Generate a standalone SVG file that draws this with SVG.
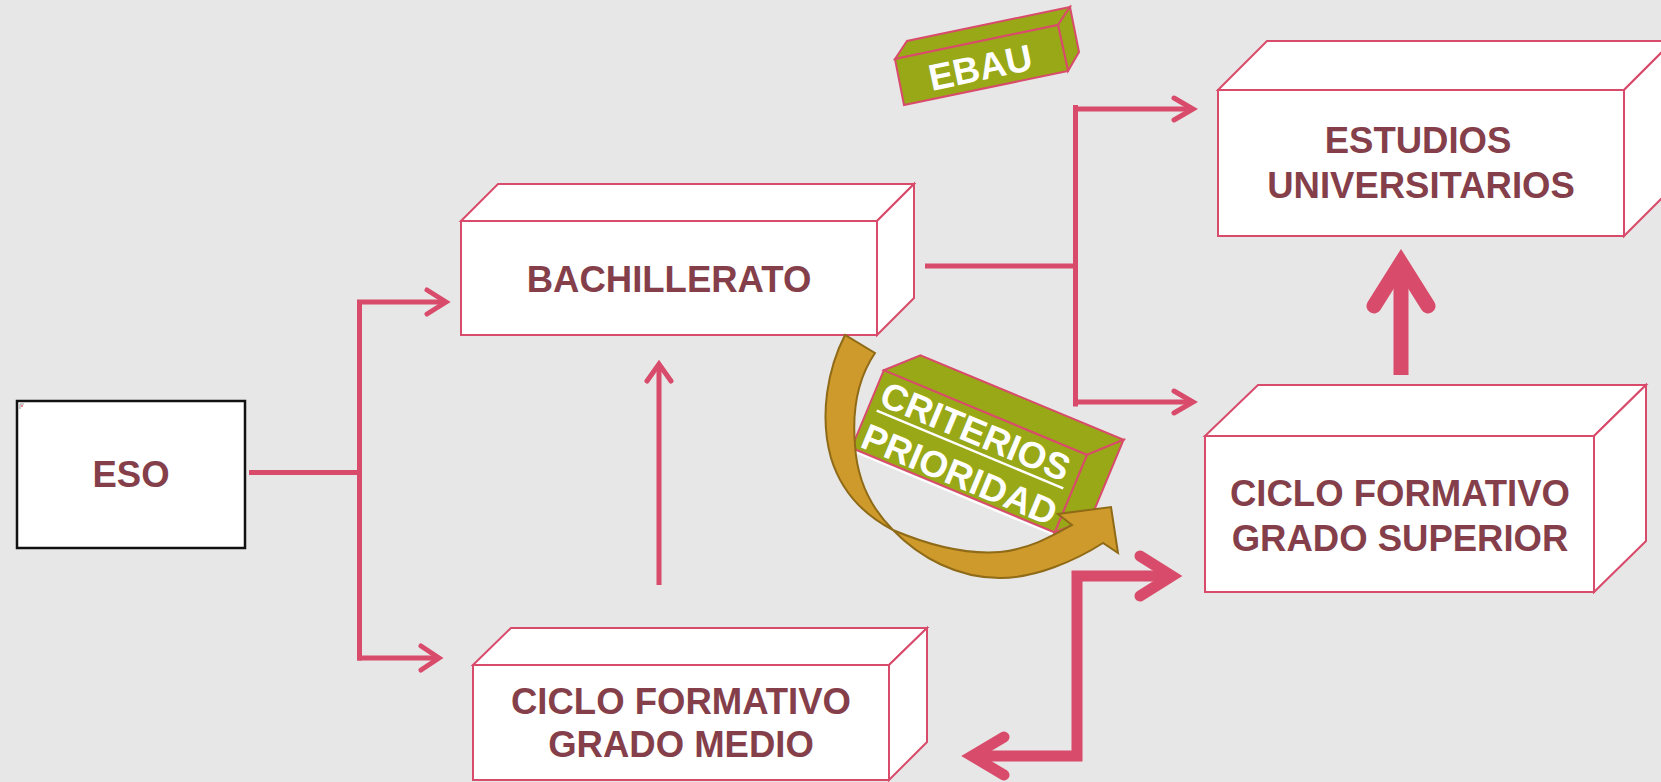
<svg xmlns="http://www.w3.org/2000/svg" width="1661" height="782" viewBox="0 0 1661 782">
<style>
.box{fill:#ffffff;stroke:#d94b6b;stroke-width:2;stroke-linejoin:miter}
.lbl{font-family:"Liberation Sans",Arial,sans-serif;font-weight:bold;font-size:36.5px;fill:#843f4a;text-anchor:middle}
.wlbl{font-family:"Liberation Sans",Arial,sans-serif;font-weight:bold;font-size:37px;fill:#ffffff;text-anchor:middle}
.olive{fill:#99a817;stroke:#d94b6b;stroke-width:2;stroke-linejoin:miter}
.thin{fill:none;stroke:#d94b6b;stroke-width:5;stroke-linecap:butt}
.thinhead{fill:none;stroke:#d94b6b;stroke-width:5;stroke-linecap:round;stroke-linejoin:miter}
.thick{fill:none;stroke:#d94b6b;stroke-width:11;stroke-linecap:butt;stroke-linejoin:miter}
.thickhead{fill:none;stroke:#d94b6b;stroke-width:11;stroke-linecap:round;stroke-linejoin:miter}
</style>
<rect x="0" y="0" width="1661" height="782" fill="#e7e7e7"/>

<g id="eso">
  <rect x="17" y="401" width="228" height="147" fill="#ffffff" stroke="#111111" stroke-width="2.5"/>
  <path d="M20,409 V404 H24" fill="none" stroke="#999999" stroke-width="1"/>
  <rect x="21" y="405" width="2" height="2" fill="#e88a9a"/>
  <text class="lbl" x="131" y="487">ESO</text>
</g>

<g id="bachillerato">
  <polygon class="box" points="461,221 498,184 914,184 877,221"/>
  <polygon class="box" points="877,221 914,184 914,298 877,335"/>
  <rect class="box" x="461" y="221" width="416" height="114"/>
  <text class="lbl" x="669" y="292">BACHILLERATO</text>
</g>

<g id="cf-grado-medio">
  <polygon class="box" points="473,665 511,628 927,628 889,665"/>
  <polygon class="box" points="889,665 927,628 927,742 889,780"/>
  <rect class="box" x="473" y="665" width="416" height="115"/>
  <text class="lbl" x="681" y="714">CICLO FORMATIVO</text>
  <text class="lbl" x="681" y="757">GRADO MEDIO</text>
</g>

<g id="estudios-universitarios">
  <polygon class="box" points="1218,90 1267,41 1673,41 1624,90"/>
  <polygon class="box" points="1624,90 1673,41 1673,187 1624,236"/>
  <rect class="box" x="1218" y="90" width="406" height="146"/>
  <text class="lbl" x="1418" y="153">ESTUDIOS</text>
  <text class="lbl" x="1421" y="198">UNIVERSITARIOS</text>
</g>

<g id="cf-grado-superior">
  <polygon class="box" points="1205,436 1258,385 1646,385 1594,436"/>
  <polygon class="box" points="1594,436 1646,385 1646,541 1594,592"/>
  <rect class="box" x="1205" y="436" width="389" height="156"/>
  <text class="lbl" x="1400" y="506">CICLO FORMATIVO</text>
  <text class="lbl" x="1400" y="551">GRADO SUPERIOR</text>
</g>

<g id="ebau">
  <polygon class="olive" points="895,59 907,41 1070,7 1058,25"/>
  <polygon class="olive" points="1058,25 1070,7 1079,52 1068,71"/>
  <polygon class="olive" points="895,59 1058,25 1068,71 904,105"/>
  <text class="wlbl" transform="translate(983,80) rotate(-12)" x="0" y="0">EBAU</text>
</g>

<g id="criterios-prioridad" transform="translate(970,449.5) rotate(22.6)">
  <line x1="-110" y1="46.5" x2="110" y2="46.5" stroke="#ffffff" stroke-width="2"/>
  <polygon class="olive" points="-110,-40 -82,-68 138,-68 110,-40"/>
  <polygon class="olive" points="110,-40 138,-68 138,16 110,44"/>
  <rect class="olive" x="-110" y="-40" width="220" height="84"/>
  <text class="wlbl" x="-2" y="-6">CRITERIOS</text>
  <line x1="-101" y1="0" x2="101" y2="0" stroke="#ffffff" stroke-width="2.5"/>
  <text class="wlbl" x="0" y="40">PRIORIDAD</text>
</g>

<g id="connectors">
  <!-- ESO fork -->
  <line class="thin" x1="249" y1="472.5" x2="359" y2="472.5"/>
  <line class="thin" x1="359.5" y1="300" x2="359.5" y2="660.5"/>
  <line class="thin" x1="357" y1="302" x2="445" y2="302"/>
  <polyline class="thinhead" points="427,290 446,302 427,314"/>
  <line class="thin" x1="357" y1="658" x2="438" y2="658"/>
  <polyline class="thinhead" points="421,646 439,658 421,670"/>
  <!-- CFGM to Bachillerato -->
  <line class="thin" x1="659" y1="585" x2="659" y2="366"/>
  <polyline class="thinhead" points="647,381 659,364 671,381"/>
  <!-- Bachillerato fork -->
  <line class="thin" x1="925" y1="266" x2="1075" y2="266"/>
  <line class="thin" x1="1075.5" y1="105" x2="1075.5" y2="406.5"/>
  <line class="thin" x1="1073" y1="109" x2="1192" y2="109"/>
  <polyline class="thinhead" points="1174,98 1193,109 1174,120"/>
  <line class="thin" x1="1073" y1="402" x2="1192" y2="402"/>
  <polyline class="thinhead" points="1174,391 1193,402 1174,413"/>
  <!-- CFGS to Estudios -->
  <line x1="1401" y1="375" x2="1401" y2="270" stroke="#d94b6b" stroke-width="15"/>
  <polyline points="1374,306 1401,263 1428,306" fill="none" stroke="#d94b6b" stroke-width="15" stroke-linecap="round" stroke-linejoin="miter"/>
  <!-- bidirectional CFGM <-> CFGS -->
  <polyline class="thick" points="1172,576 1077,576 1077,756 972,756"/>
  <polyline class="thickhead" points="1140,556 1172,576 1140,596"/>
  <polyline class="thickhead" points="1004,737 972,756 1004,775"/>
  <!-- curved arrow -->
  <path d="M845,335 C828,368 819,415 831,458 C842,494 866,516 893,530 C926,544 962,555 1000,552 C1030,549 1052,536 1072,525 L1058,514 L1111,507 L1118,553 L1103,543 C1075,561 1035,578 1000,578 C958,578 920,558 893,530 C872,509 857,480 855,445 C852,410 858,378 875,353 Z" fill="#cd9a2b" stroke="#8f6a17" stroke-width="2" stroke-linejoin="miter"/>
</g>
</svg>
